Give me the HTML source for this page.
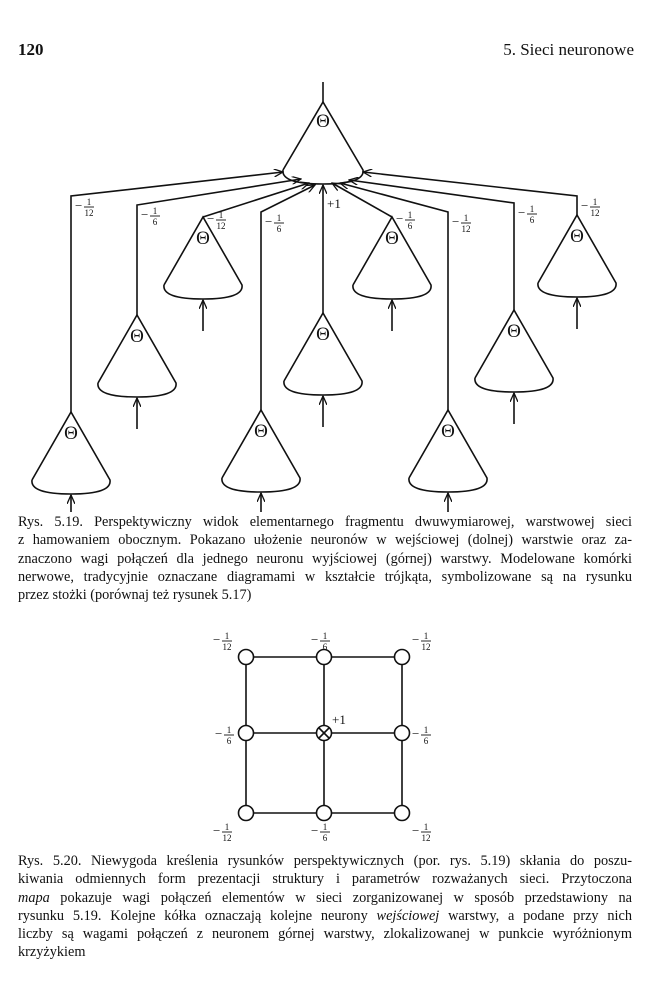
<!DOCTYPE html>
<html><head><meta charset="utf-8">
<style>
html,body{margin:0;padding:0;background:#fff;}
body{width:650px;height:1001px;position:relative;overflow:hidden;font-family:"Liberation Serif",serif;color:#111;}
.hdr{position:absolute;top:40px;font-size:17px;}
.cap{position:absolute;left:18px;width:614px;font-size:14.3px;line-height:18.3px;}
.cap div{text-align:justify;text-align-last:justify;white-space:nowrap;height:18.3px;}
.cap div.last{text-align-last:left;}
svg{position:absolute;left:0;top:0;}
svg text{font-family:"Liberation Serif",serif;fill:#111;stroke:none;}
</style></head><body>
<div class="hdr" style="left:18px;font-weight:bold">120</div>
<div class="hdr" style="right:16px">5. Sieci neuronowe</div>

<svg width="650" height="1001" viewBox="0 0 650 1001">
<defs>
<marker id="ah" markerWidth="10" markerHeight="8" refX="9" refY="4" orient="auto" markerUnits="userSpaceOnUse">
<path d="M0,0 L9,4 L0,8" fill="none" stroke="#111" stroke-width="1.3"/></marker>
</defs>
<g id="topfig" stroke="#111" stroke-width="1.6" fill="none"></g>
<g id="grid" stroke="#111" stroke-width="1.6" fill="none"></g>
</svg>

<div class="cap" style="top:513px">
<div>Rys. 5.19. Perspektywiczny widok elementarnego fragmentu dwuwymiarowej, warstwowej sieci</div>
<div>z hamowaniem obocznym. Pokazano ułożenie neuronów w wejściowej (dolnej) warstwie oraz za-</div>
<div>znaczono wagi połączeń dla jednego neuronu wyjściowej (górnej) warstwy. Modelowane komórki</div>
<div>nerwowe, tradycyjnie oznaczane diagramami w kształcie trójkąta, symbolizowane są na rysunku</div>
<div class="last">przez stożki (porównaj też rysunek 5.17)</div>
</div>
<div class="cap" style="top:852px">
<div>Rys. 5.20. Niewygoda kreślenia rysunków perspektywicznych (por. rys. 5.19) skłania do poszu-</div>
<div>kiwania odmiennych form prezentacji struktury i parametrów rozważanych sieci. Przytoczona</div>
<div><i>mapa</i> pokazuje wagi połączeń elementów w sieci zorganizowanej w sposób przedstawiony na</div>
<div>rysunku 5.19. Kolejne kółka oznaczają kolejne neurony <i>wejściowej</i> warstwy, a podane przy nich</div>
<div>liczby są wagami połączeń z neuronem górnej warstwy, zlokalizowanej w punkcie wyróżnionym</div>
<div class="last">krzyżykiem</div>
</div>

<script>
const NS="http://www.w3.org/2000/svg";
function mk(tag,attrs,parent){const e=document.createElementNS(NS,tag);for(const k in attrs)e.setAttribute(k,attrs[k]);parent.appendChild(e);return e;}
const topG=document.getElementById('topfig');
const grid=document.getElementById('grid');

// ---- Figure 5.19 data ----
const coneX=[71,137,203,261,323,392,448,514,577];
const coneApexY=[412,315,217,410,313,217,410,310,215];
const bendY=[196,205,217,212,313,217,212,203,196];
const targetX=[283,301,309,315,323,332,340,349,363];
const targetY=[172,179,183,185,185,183,183,180,172];
const weightDen=["12","6","12","6","","6","12","6","12"];

function fraction(x,y,den,parent){
  const t=mk('text',{x:x,y:y+4,'font-size':'13'},parent);t.textContent='−';
  
  const n=mk('text',{x:x+14,y:y-1,'font-size':'9','text-anchor':'middle'},parent);n.textContent='1';
  mk('line',{x1:x+9,y1:y+1,x2:x+19,y2:y+1,'stroke-width':'0.9'},parent);
  const d=mk('text',{x:x+14,y:y+10,'font-size':'9','text-anchor':'middle'},parent);d.textContent=den;
}
function cone(cx,ay,parent,w,h,th){
  const g=mk('g',{},parent);
  
  
  mk('path',{d:`M${cx-w},${ay+h} L${cx},${ay} L${cx+w},${ay+h} Q${cx+w+2},${ay+h+14} ${cx},${ay+h+14} Q${cx-w-2},${ay+h+14} ${cx-w},${ay+h}`},g);
  const t=mk('text',{x:cx,y:ay+th,'font-size':'19','text-anchor':'middle'},g);t.textContent='Θ';
  return g;
}
mk('line',{x1:323,y1:82,x2:323,y2:102},topG);
cone(323,102,topG,40,68,25);
for(let i=0;i<coneX.length;i++){
  const x=coneX[i],ay=coneApexY[i];
  cone(x,ay,topG,39,68,27);
  const bot=ay+68+14;
  const ln=mk('line',{x1:x,y1:Math.min(bot+32,512),x2:x,y2:bot+1,'marker-end':'url(#ah)'},topG);
  
  const p=mk('path',{d:`M${x},${ay} L${x},${bendY[i]} L${targetX[i]},${targetY[i]}`,'marker-end':'url(#ah)'},topG);
  
  if(weightDen[i]===""){
    const t=mk('text',{x:x+4,y:208,'font-size':'13'},topG);t.textContent='+1';
    
  } else {
    const ly=(i===2||i===5)?bendY[i]+2:bendY[i]+10;
    fraction(x+4,ly,weightDen[i],topG);
  }
}

// ---- Figure 5.20 data ----
const gx=[246,324,402];
const gy=[657,733,813];
const gridDen=[["12","6","12"],["6","","6"],["12","6","12"]];
for(let r=0;r<3;r++){mk('line',{x1:gx[0],y1:gy[r],x2:gx[2],y2:gy[r]},grid);}
for(let c=0;c<3;c++){mk('line',{x1:gx[c],y1:gy[0],x2:gx[c],y2:gy[2]},grid);}
for(let r=0;r<3;r++)for(let c=0;c<3;c++){
  const n=mk('circle',{cx:gx[c],cy:gy[r],r:7.5,fill:'#fff'},grid);
  
  if(r===1&&c===1){
    mk('line',{x1:gx[c]-5,y1:gy[r]-5,x2:gx[c]+5,y2:gy[r]+5},grid);
    mk('line',{x1:gx[c]+5,y1:gy[r]-5,x2:gx[c]-5,y2:gy[r]+5},grid);
    const t=mk('text',{x:gx[c]+8,y:gy[r]-9,'font-size':'13'},grid);t.textContent='+1';
    continue;
  }
  let lx,ly;
  if(r===1){lx=c===0?gx[c]-31:gx[c]+10;ly=gy[r]+1;}
  else if(r===0){lx=c===1?gx[c]-13:(c===0?gx[c]-33:gx[c]+10);ly=gy[r]-17;}
  else {lx=c===1?gx[c]-13:(c===0?gx[c]-33:gx[c]+10);ly=gy[r]+18;}
  fraction(lx,ly,gridDen[r][c],grid);
}
</script>
</body></html>
